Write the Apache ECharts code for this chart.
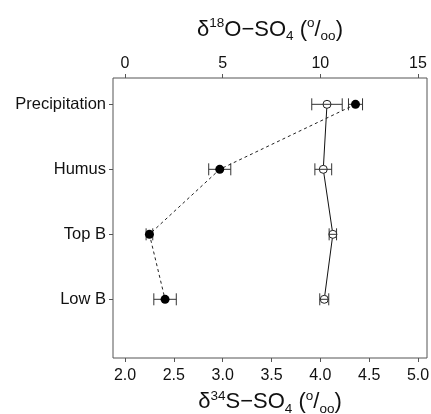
<!DOCTYPE html>
<html>
<head>
<meta charset="utf-8">
<script src="https://cdn.jsdelivr.net/npm/echarts@6/dist/echarts.min.js"></script>
<style>
html,body{margin:0;padding:0;background:#fff;}
#chart{width:431px;height:414px;}
</style>
</head>
<body>
<div id="chart"></div>
<script>
// ---- data ----
var categories = ['Precipitation', 'Humus', 'Top B', 'Low B'];
var s34Values = [4.36, 2.97, 2.25, 2.41];     // filled points, bottom axis
var s34Errors = [0.072, 0.113, 0.034, 0.115];
var o18Values = [10.34, 10.15, 10.64, 10.20]; // open points, top axis
var o18Errors = [0.78, 0.43, 0.19, 0.23];
var s34Ticks = [2.0, 2.5, 3.0, 3.5, 4.0, 4.5, 5.0];
var o18Ticks = [0, 5, 10, 15];

// ---- build ----
var FONT = '"Liberation Sans", Arial, Helvetica, sans-serif';
var yPos = categories.map(function (c, i) { return categories.length - i; });
var s34Min = 1.877, s34Max = 5.092;
var o18Min = (s34Min - 2) * 5, o18Max = (s34Max - 2) * 5;

function pts(vals) { return vals.map(function (v, i) { return [v, yPos[i]]; }); }
function errs(vals, e) { return vals.map(function (v, i) { return [v - e[i], v + e[i], yPos[i]]; }); }

function errRender(params, api) {
  var a = api.coord([api.value(0), api.value(2)]);
  var b = api.coord([api.value(1), api.value(2)]);
  var h = 6;
  var st = { stroke: '#333', lineWidth: 1 };
  return {
    type: 'group',
    children: [
      { type: 'line', shape: { x1: a[0], y1: a[1], x2: b[0], y2: b[1] }, style: st },
      { type: 'line', shape: { x1: a[0], y1: a[1] - h, x2: a[0], y2: a[1] + h }, style: st },
      { type: 'line', shape: { x1: b[0], y1: b[1] - h, x2: b[0], y2: b[1] + h }, style: st }
    ]
  };
}

var richName = {
  n: { fontSize: 22, lineHeight: 27, fontFamily: FONT, color: '#111' },
  sup: { fontSize: 13.5, lineHeight: 13, verticalAlign: 'top', fontFamily: FONT, color: '#111' },
  sub: { fontSize: 13.5, lineHeight: 17, verticalAlign: 'bottom', fontFamily: FONT, color: '#111' }
};

var axisColor = '#555';
var chart = echarts.init(document.getElementById('chart'), null, { renderer: 'canvas' });
chart.setOption({
  animation: false,
  backgroundColor: '#fff',
  grid: {
    left: 113, right: 4, top: 78, bottom: 56,
    containLabel: false, outerBoundsMode: 'none',
    show: true, borderColor: axisColor, borderWidth: 1, backgroundColor: 'transparent'
  },
  xAxis: [
    {
      type: 'value', position: 'bottom', min: s34Min, max: s34Max,
      axisLine: { show: false, onZero: false },
      splitLine: { show: false },
      axisTick: { show: true, length: 4, customValues: s34Ticks, lineStyle: { color: axisColor } },
      axisLabel: {
        customValues: s34Ticks, margin: 10, fontSize: 16, fontFamily: FONT, color: '#111',
        formatter: function (v) { return Number(v).toFixed(1); }
      },
      name: '{n|δ}{sup|34}{n|S−SO}{sub|4}{n| (}{sup|o}{n|/}{sub|oo}{n|)}',
      nameLocation: 'middle', nameGap: 30,
      nameTextStyle: { rich: richName }
    },
    {
      type: 'value', position: 'top', min: o18Min, max: o18Max,
      axisLine: { show: false, onZero: false },
      splitLine: { show: false },
      axisTick: { show: true, length: 4, customValues: o18Ticks, lineStyle: { color: axisColor } },
      axisLabel: {
        customValues: o18Ticks, margin: 6, fontSize: 16, fontFamily: FONT, color: '#111',
        formatter: function (v) { return String(Math.round(v)); }
      },
      name: '{n|δ}{sup|18}{n|O−SO}{sub|4}{n| (}{sup|o}{n|/}{sub|oo}{n|)}',
      nameLocation: 'middle', nameGap: 35,
      nameTextStyle: { rich: richName }
    }
  ],
  yAxis: {
    type: 'value', min: 0.097, max: 4.405,
    axisLine: { show: false, onZero: false },
    splitLine: { show: false },
    axisTick: { show: true, length: 4, customValues: yPos, lineStyle: { color: axisColor } },
    axisLabel: {
      customValues: yPos, margin: 7, fontSize: 16.5, fontFamily: FONT, color: '#111',
      formatter: function (v) { return categories[categories.length - Math.round(v)]; }
    }
  },
  series: [
    {
      type: 'line', xAxisIndex: 1, data: pts(o18Values), z: 2,
      symbol: 'circle', symbolSize: 8,
      itemStyle: { color: '#fff', borderColor: '#222', borderWidth: 1 },
      lineStyle: { color: '#111', width: 1, type: 'solid' }
    },
    {
      type: 'custom', xAxisIndex: 1, data: errs(o18Values, o18Errors), z: 3,
      encode: { x: [0, 1], y: 2 }, renderItem: errRender
    },
    {
      type: 'line', xAxisIndex: 0, data: pts(s34Values), z: 4,
      symbol: 'circle', symbolSize: 9,
      itemStyle: { color: '#000', borderWidth: 0 },
      lineStyle: { color: '#222', width: 1, type: [3, 3] }
    },
    {
      type: 'custom', xAxisIndex: 0, data: errs(s34Values, s34Errors), z: 3,
      encode: { x: [0, 1], y: 2 }, renderItem: errRender
    }
  ]
});
</script>
</body>
</html>
